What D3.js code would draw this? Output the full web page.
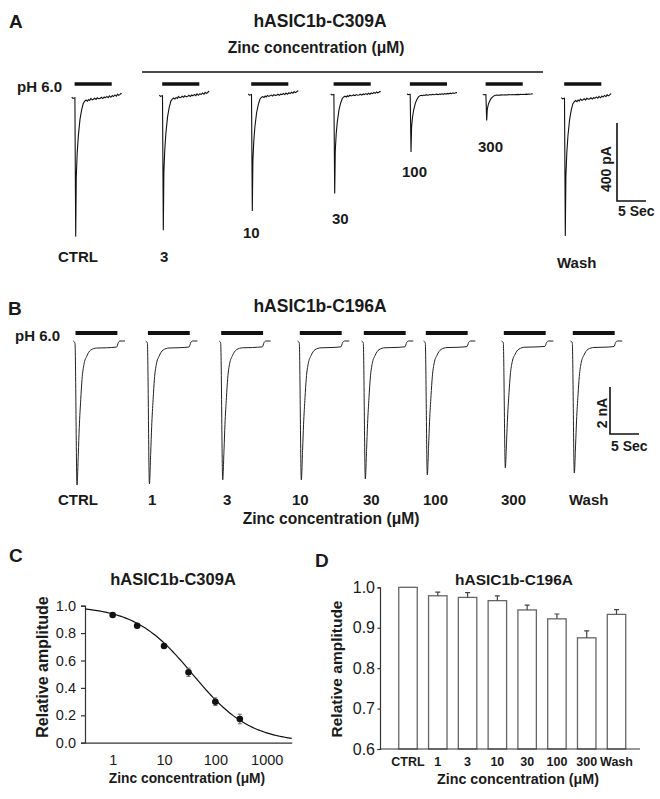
<!DOCTYPE html>
<html>
<head>
<meta charset="utf-8">
<script src="https://cdn.jsdelivr.net/npm/d3@7"></script>
<style>
  body { margin: 0; background: #fff; }
  text { font-family: "Liberation Sans", Arial, sans-serif; fill: #1a1a1a; }
  .bold { font-weight: bold; }
</style>
</head>
<body>
<svg id="fig" width="660" height="799"></svg>
<script>
// ---- data ----
// panel A: hASIC1b-C309A currents, peak amplitude (pA)
var labelsA = ["CTRL", "3", "10", "30", "100", "300", "Wash"];
var peaksA = [716, 693, 600, 510, 298, 133, 710];
// panel B: hASIC1b-C196A currents, peak amplitude (pA)
var labelsB = ["CTRL", "1", "3", "10", "30", "100", "300", "Wash"];
var peaksB = [6130, 6080, 5910, 5910, 5870, 5700, 5400, 5620];

// time course of the control traces (s) and current as a fraction of the peak
var timeA = [0, 0.2, 0.55, 0.69, 0.79, 0.95, 1.14, 1.43, 1.72, 2.0, 2.25, 2.47, 2.7, 2.9, 3.1, 3.3, 3.55,
             3.75, 3.95, 4.2, 4.4, 4.65, 4.9, 5.1, 5.35, 5.6, 5.8, 6.05, 6.3, 6.5, 6.75, 7.0, 7.2,
             7.45, 7.7, 7.9, 8.1, 8.3, 8.5, 8.62];
var shapeA = [0, 0.01, 0.005, 1.0, 0.57, 0.40, 0.28, 0.16, 0.09, 0.045, 0.03, 0.022, 0.03, 0.018, 0.025, 0.012, 0.02,
              0.016, 0.009, 0.017, 0.006, 0.012, 0.01, 0.002, 0.011, 0.0, 0.006, -0.004, 0.005, -0.008, 0.002, -0.01, -0.003,
              -0.015, -0.006, -0.02, -0.012, -0.017, -0.026, -0.024];
var timeB = [0, 0.29, 0.64, 0.86, 1.03, 1.28, 1.5, 1.84, 2.31, 3.0, 4.03, 5.76, 7.48, 7.76, 8.05, 8.91];
var shapeB = [0, 0.014, 1, 0.787, 0.599, 0.408, 0.268, 0.162, 0.106, 0.063, 0.049, 0.047, 0.042, 0.012, 0, 0];

// pH 6.0 application (s)
var pulseA = [0.5, 6.9];
var pulseB = [0.38, 7.6];

// panel C: dose response, C309A
var concC = [1, 3, 10, 30, 100, 300];
var ampC = [0.932, 0.854, 0.706, 0.514, 0.299, 0.173];
var semC = [0.012, 0.012, 0.014, 0.03, 0.028, 0.035];
var ic50 = 36, hillN = 0.77;

// panel D: C196A
var catsD = ["CTRL", "1", "3", "10", "30", "100", "300", "Wash"];
var ampD = [1.0, 0.979, 0.975, 0.967, 0.944, 0.922, 0.875, 0.933];
var semD = [0, 0.009, 0.012, 0.012, 0.012, 0.012, 0.017, 0.012];

// ---- layout (pixels) ----
var startA = [71.7, 159.3, 248.3, 330.7, 407, 482.7, 561.3];
var baseA = [97, 95, 94, 94, 94, 94.5, 97.5];
var labA = [[58, 262], [160, 262], [243, 238], [332, 224], [402, 177], [478, 152], [557, 268]];
var startB = [73.3, 145.7, 219, 297.6, 361.6, 423.6, 501.6, 570.6];
var labB = [58, 148, 223, 292, 363, 423, 501, 569];

var svg = d3.select("#fig");

function txt(x, y, s, size, bold, anchor) {
  return svg.append("text")
    .attr("x", x).attr("y", y)
    .attr("class", bold ? "bold" : null)
    .style("font-size", size + "px")
    .attr("text-anchor", anchor || "start")
    .text(s);
}

// ---------- panel A ----------
txt(9, 28, "A", 19, true);
txt(320, 27, "hASIC1b-C309A", 17.5, true, "middle");
txt(316, 53, "Zinc concentration (\u03bcM)", 15.6, true, "middle");
svg.append("line").attr("x1", 142).attr("x2", 543).attr("y1", 72).attr("y2", 72)
  .attr("stroke", "#111").attr("stroke-width", 1.4);
txt(17, 92, "pH 6.0", 15, true);

var tA = d3.scaleLinear().domain([0, 5]).range([0, 29]);   // 5 s = 29 px
var iA = d3.scaleLinear().domain([0, 400]).range([0, 78]); // 400 pA = 78 px

peaksA.forEach(function(pk, k) {
  var g = svg.append("g").attr("transform", "translate(" + startA[k] + "," + baseA[k] + ")");
  var pts = timeA.map(function(t, i) { return [t, shapeA[i] * pk]; });
  g.append("path")
    .attr("d", d3.line().x(function(d) { return tA(d[0]); }).y(function(d) { return iA(d[1]); })(pts))
    .attr("fill", "none").attr("stroke", "#111").attr("stroke-width", 1.1);
  svg.append("line")
    .attr("x1", startA[k] + tA(pulseA[0])).attr("x2", startA[k] + tA(pulseA[1]))
    .attr("y1", 84).attr("y2", 84)
    .attr("stroke", "#111").attr("stroke-width", 3.5);
  txt(labA[k][0], labA[k][1], labelsA[k], 15, true);
});

// scale bar A
svg.append("path")
  .attr("d", "M617," + (201 - iA(400)) + "V201H" + (617 + tA(5)))
  .attr("fill", "none").attr("stroke", "#111").attr("stroke-width", 1.6);
svg.append("text").attr("class", "bold").style("font-size", "14px")
  .attr("text-anchor", "middle")
  .attr("transform", "translate(611,169) rotate(-90)").text("400 pA");
txt(618, 216, "5 Sec", 14, true);

// ---------- panel B ----------
txt(8, 315, "B", 19, true);
txt(320, 312, "hASIC1b-C196A", 17.5, true, "middle");
txt(15, 341, "pH 6.0", 15, true);

var tB = d3.scaleLinear().domain([0, 5]).range([0, 29]);
var iB = d3.scaleLinear().domain([0, 2000]).range([0, 47]); // 2 nA = 47 px

peaksB.forEach(function(pk, k) {
  var g = svg.append("g").attr("transform", "translate(" + startB[k] + ",341)");
  var pts = timeB.map(function(t, i) { return [t, shapeB[i] * pk]; });
  g.append("path")
    .attr("d", d3.line().curve(d3.curveMonotoneX)
      .x(function(d) { return tB(d[0]); }).y(function(d) { return iB(d[1]); })(pts))
    .attr("fill", "none").attr("stroke", "#222").attr("stroke-width", 1);
  svg.append("line")
    .attr("x1", startB[k] + tB(pulseB[0])).attr("x2", startB[k] + tB(pulseB[1]))
    .attr("y1", 333).attr("y2", 333)
    .attr("stroke", "#111").attr("stroke-width", 4);
  txt(labB[k], 505, labelsB[k], 15, true);
});

svg.append("path")
  .attr("d", "M610," + (434 - iB(2000)) + "V434H" + (610 + tB(5)))
  .attr("fill", "none").attr("stroke", "#111").attr("stroke-width", 1.6);
svg.append("text").attr("class", "bold").style("font-size", "14px")
  .attr("text-anchor", "middle")
  .attr("transform", "translate(607,413) rotate(-90)").text("2 nA");
txt(611, 451, "5 Sec", 14, true);
txt(331, 524, "Zinc concentration (\u03bcM)", 15.6, true, "middle");

// ---------- panel C ----------
txt(9, 562, "C", 19, true);
txt(173, 585, "hASIC1b-C309A", 16.5, true, "middle");

var xC = d3.scaleLog().domain([0.289, 3070]).range([85, 291.7]);
var yC = d3.scaleLinear().domain([0, 1]).range([742.7, 605.7]);

var axC = svg.append("g").attr("transform", "translate(85,0)")
  .call(d3.axisLeft(yC).tickValues([0, 0.2, 0.4, 0.6, 0.8, 1]).tickFormat(d3.format(".1f"))
    .tickSize(4).tickPadding(5));
var bxC = svg.append("g").attr("transform", "translate(0,742.7)")
  .call(d3.axisBottom(xC).tickValues([1, 10, 100, 1000]).tickFormat(d3.format("d"))
    .tickSize(0).tickPadding(12));
[axC, bxC].forEach(function(a) {
  a.selectAll("path,line").attr("stroke", "#333").attr("stroke-width", 1.2);
  a.selectAll("text").style("font-size", "14.5px").attr("fill", "#1a1a1a")
    .style("font-family", "'Liberation Sans', Arial, sans-serif");
});

// Hill fit
var fitX = d3.range(0, 121).map(function(i) { return Math.pow(10, Math.log10(0.289) + i * (Math.log10(3070) - Math.log10(0.289)) / 120); });
svg.append("path")
  .attr("d", d3.line().x(function(c) { return xC(c); })
    .y(function(c) { return yC(1 / (1 + Math.pow(c / ic50, hillN))); })(fitX))
  .attr("fill", "none").attr("stroke", "#111").attr("stroke-width", 1.2);

concC.forEach(function(c, i) {
  var cx = xC(c);
  svg.append("path")
    .attr("d", "M" + cx + "," + yC(ampC[i] - semC[i]) + "V" + yC(ampC[i] + semC[i]) +
      "M" + (cx - 2) + "," + yC(ampC[i] - semC[i]) + "h4M" + (cx - 2) + "," + yC(ampC[i] + semC[i]) + "h4")
    .attr("stroke", "#666").attr("stroke-width", 1).attr("fill", "none");
  svg.append("circle").attr("cx", cx).attr("cy", yC(ampC[i])).attr("r", 3.3).attr("fill", "#111");
});

svg.append("text").attr("class", "bold").style("font-size", "16px").attr("text-anchor", "middle")
  .attr("transform", "translate(48,667) rotate(-90)").text("Relative amplitude");
txt(187, 783, "Zinc concentration (\u03bcM)", 13.8, true, "middle");

// ---------- panel D ----------
txt(315, 567, "D", 19, true);
txt(514, 585, "hASIC1b-C196A", 15.5, true, "middle");

var xD = d3.scaleBand().domain(catsD).range([380, 644.5]).paddingInner(0.38).paddingOuter(0.63);
var yD = d3.scaleLinear().domain([0.6, 1.0]).range([749, 587.3]);

svg.selectAll(".bar").data(ampD).enter().append("rect")
  .attr("x", function(d, i) { return xD(catsD[i]); })
  .attr("width", xD.bandwidth())
  .attr("y", function(d) { return yD(d); })
  .attr("height", function(d) { return 749 - yD(d); })
  .attr("fill", "#fff").attr("stroke", "#666").attr("stroke-width", 1.3);

ampD.forEach(function(v, i) {
  if (!semD[i]) return;
  var cx = xD(catsD[i]) + xD.bandwidth() / 2;
  svg.append("path")
    .attr("d", "M" + cx + "," + yD(v) + "V" + yD(v + semD[i]) + "M" + (cx - 2.5) + "," + yD(v + semD[i]) + "h5")
    .attr("stroke", "#444").attr("stroke-width", 1.2).attr("fill", "none");
});

var ayD = svg.append("g").attr("transform", "translate(380,0)")
  .call(d3.axisLeft(yD).tickValues([0.6, 0.7, 0.8, 0.9, 1.0]).tickFormat(d3.format(".1f"))
    .tickSize(2.5).tickPadding(2.5));
ayD.selectAll("text").style("font-size", "16px");
var axD = svg.append("g").attr("transform", "translate(0,749)")
  .call(d3.axisBottom(xD).tickSize(0).tickPadding(8).tickSizeOuter(0));
axD.select(".domain").attr("d", "M380,0H640");
axD.selectAll("text").style("font-size", "12.5px").style("font-weight", "bold");
[ayD, axD].forEach(function(a) {
  a.selectAll("path,line").attr("stroke", "#333").attr("stroke-width", 1.2);
  a.selectAll("text").attr("fill", "#1a1a1a").style("font-family", "'Liberation Sans', Arial, sans-serif");
});

svg.append("text").attr("class", "bold").style("font-size", "15.5px").attr("text-anchor", "middle")
  .attr("transform", "translate(342,669) rotate(-90)").text("Relative amplitude");
txt(518, 784, "Zinc concentration (\u03bcM)", 14.3, true, "middle");
</script>
</body>
</html>
